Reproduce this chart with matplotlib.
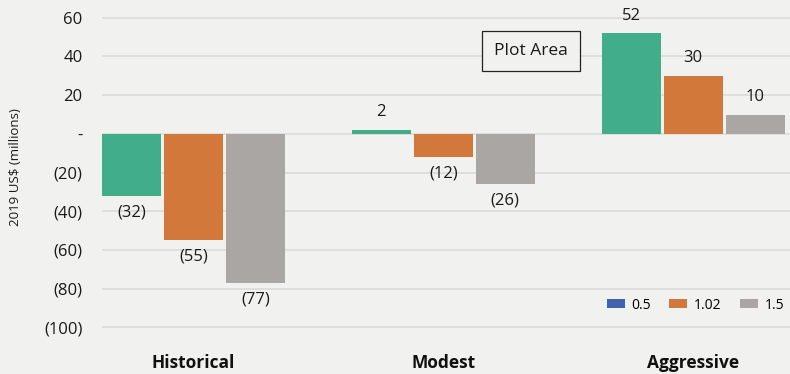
import numpy as np
import matplotlib.pyplot as plt
from matplotlib.patches import Patch

# scenario data, 2019 US$ millions
categories = ["Historical", "Modest", "Aggressive"]
series_names = ["0.5", "1.02", "1.5"]
values_05 = [-32, 2, 52]
values_102 = [-55, -12, 30]
values_15 = [-77, -26, 10]
yticks = [60, 40, 20, 0, -20, -40, -60, -80, -100]

bg = "#f1f1ef"
bar_colors = ["#41ad8b", "#d3783b", "#a9a6a3"]
legend_colors = ["#4262ad", "#d3783b", "#a9a6a3"]

plt.rcParams["font.family"] = ["Open Sans", "DejaVu Sans"]

fig = plt.figure(figsize=(7.9, 3.74), dpi=100, facecolor=bg)
ax = fig.add_axes([102 / 790, 1 - 337 / 374, 1 - 102 / 790, 337 / 374])
ax.set_facecolor(bg)

x = np.arange(len(categories))
width = 0.236
offset = 0.248
all_series = [values_05, values_102, values_15]

for i, vals in enumerate(all_series):
    pos = x + (i - 1) * offset
    ax.bar(pos, vals, width=width, color=bar_colors[i], zorder=3)
    for p, v in zip(pos, vals):
        label = f"({abs(v)})" if v < 0 else str(v)
        if v < 0:
            ax.annotate(label, (p, v), xytext=(0, -6), textcoords="offset points",
                        ha="center", va="top", fontsize=12, color="#1a1a1a")
        else:
            ax.annotate(label, (p, v), xytext=(0, 7), textcoords="offset points",
                        ha="center", va="bottom", fontsize=12, color="#1a1a1a")

ax.set_xlim(-0.366, 2.388)
ax.set_ylim(-105, 69.2)
ax.set_yticks(yticks)
ax.set_yticklabels(["-" if t == 0 else (f"({abs(t)})" if t < 0 else str(t)) for t in yticks],
                   fontsize=12, color="#1a1a1a")
ax.yaxis.grid(True, color="#dddddb", linewidth=1.3, zorder=0)
ax.tick_params(axis="y", length=0, pad=14)
ax.set_xticks(x)
ax.set_xticklabels(categories, fontsize=12.5, fontweight="bold", color="#111111")
ax.tick_params(axis="x", length=0, pad=12)
for s in ax.spines.values():
    s.set_visible(False)

ax.set_ylabel("2019 US$ (millions)", fontsize=9.5, color="#1a1a1a")
ax.yaxis.set_label_coords(-0.116, 0.505)

# the "Plot Area" tag box
ax.text(1.352, 43, "Plot Area", fontsize=12.5, ha="center", va="center", color="#1a1a1a",
        bbox=dict(boxstyle="square,pad=0.7", facecolor=bg, edgecolor="#222222", linewidth=0.9),
        zorder=5)

handles = [Patch(facecolor=c, edgecolor="none") for c in legend_colors]
leg = ax.legend(handles, series_names, loc="lower right", bbox_to_anchor=(1.01, 0.035),
                ncol=3, frameon=False, fontsize=10, handlelength=1.3, handleheight=0.6,
                columnspacing=1.3, handletextpad=0.5)

fig.savefig("out.png", dpi=100, facecolor=bg)
